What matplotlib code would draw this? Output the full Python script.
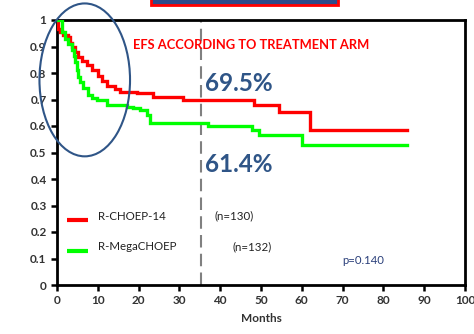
import matplotlib
matplotlib.use("Agg")
import matplotlib.pyplot as plt
from matplotlib.patches import Ellipse, Rectangle
from matplotlib.lines import Line2D

plt.rcParams['font.family'] = ['Lato', 'DejaVu Sans']

# Data
red_label = "R-CHOEP-14"
green_label = "R-MegaCHOEP"
red_n = "(n=130)"
green_n = "(n=132)"
red_t = [0, 0.2, 0.7, 1.5, 2.7, 3.2, 3.7, 4.3, 5.1, 6.2, 7.3, 8.6, 10, 11, 12.2, 14.2, 15.4, 19.6, 23.5, 30.8, 48.4, 54.5, 61.9, 85.8]
red_s = [1.0, 0.965, 0.955, 0.945, 0.935, 0.915, 0.90, 0.88, 0.86, 0.845, 0.83, 0.81, 0.79, 0.77, 0.75, 0.74, 0.73, 0.725, 0.71, 0.70, 0.68, 0.653, 0.585, 0.585]
green_t = [0, 1.2, 2.0, 2.7, 3.7, 4.1, 4.4, 4.8, 5.1, 5.7, 6.4, 7.6, 8.6, 9.8, 12.2, 17.1, 18.6, 20.3, 22.0, 22.7, 37.0, 47.7, 49.6, 60.0, 85.8]
green_s = [1.0, 0.955, 0.93, 0.91, 0.887, 0.865, 0.84, 0.81, 0.785, 0.765, 0.743, 0.717, 0.707, 0.70, 0.68, 0.672, 0.668, 0.66, 0.64, 0.61, 0.60, 0.585, 0.566, 0.528, 0.528]
landmark = 35.3
red_pct = "69.5%"
green_pct = "61.4%"
pval = "p=0.140"
title_txt = "EFS ACCORDING TO TREATMENT ARM"
xticks = [0, 10, 20, 30, 40, 50, 60, 70, 80, 90, 100]
yticks = [0, 0.1, 0.2, 0.3, 0.4, 0.5, 0.6, 0.7, 0.8, 0.9, 1]
ytick_labels = ["0", "0.1", "0.2", "0.3", "0.4", "0.5", "0.6", "0.7", "0.8", "0.9", "1"]

RED = "#ff0000"
GREEN = "#00ff00"
BLUE = "#2f5587"

W, H = 474, 334
fig = plt.figure(figsize=(W / 100, H / 100), dpi=100)
ax = fig.add_axes([57 / W, (H - 285) / H, (465 - 57) / W, (285 - 20) / H])
ax.set_xlim(0, 100)
ax.set_ylim(0, 1)

ax.step(red_t, red_s, where='post', color=RED, lw=2.4, solid_joinstyle='miter', zorder=3)
ax.step(green_t, green_s, where='post', color=GREEN, lw=2.4, solid_joinstyle='miter', zorder=3)

ax.axvline(landmark, color="#808080", lw=1.5, ls=(0, (6, 3)), zorder=2)

for s in ax.spines.values():
    s.set_linewidth(2)
    s.set_color("black")

ax.set_xticks(xticks)
ax.set_yticks(yticks)
ax.set_yticklabels(ytick_labels)
ax.tick_params(axis='both', direction='out', length=4.5, width=1.8, labelsize=8.5, pad=3)
for lab in ax.get_xticklabels() + ax.get_yticklabels():
    lab.set_fontweight('bold')
    lab.set_color('#333333')
ax.set_xlabel("Months", fontsize=8.5, fontweight='bold', color='#333333', labelpad=5)

# Ellipse
ell = Ellipse((6.8, 0.774), 22.2, 0.577, fill=False, edgecolor=BLUE, lw=1.5, clip_on=False, zorder=4)
ax.add_patch(ell)

# Texts
ax.text(18.6, 0.905, title_txt, color=RED, fontsize=9.3, fontweight='bold', va='center', ha='left')
ax.text(36.2, 0.759, red_pct, color=BLUE, fontsize=17.5, fontweight='bold', va='center', ha='left')
ax.text(36.2, 0.454, green_pct, color=BLUE, fontsize=17.5, fontweight='bold', va='center', ha='left')

ax.add_line(Line2D([2.4, 7.6], [0.245, 0.245], color=RED, lw=3, solid_capstyle='butt'))
ax.add_line(Line2D([2.4, 7.6], [0.13, 0.13], color=GREEN, lw=3, solid_capstyle='butt'))
ax.text(10, 0.26, red_label, fontsize=8.3, va='center', ha='left', color='#222222')
ax.text(10, 0.145, green_label, fontsize=8.3, va='center', ha='left', color='#222222')
ax.text(38.7, 0.26, red_n, fontsize=8.3, va='center', ha='left', color='#222222')
ax.text(43, 0.145, green_n, fontsize=8.3, va='center', ha='left', color='#222222')
ax.text(70, 0.094, pval, fontsize=8.2, va='center', ha='left', color='#2a3f7a')

# Title box remnant at top
fig.patches.append(Rectangle((151 / W, (H - 5) / H), (338 - 151) / W, 12 / H,
                             transform=fig.transFigure, facecolor='#2d4a8a',
                             edgecolor=RED, lw=2, clip_on=False))

fig.savefig("out.png", dpi=100)
